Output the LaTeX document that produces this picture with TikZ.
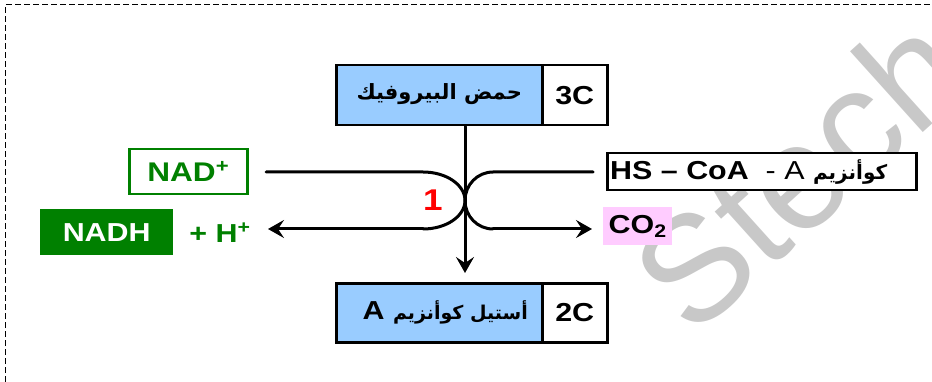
\documentclass[tikz,border=0pt]{standalone}
\usepackage{fontspec}
\setmainfont{Liberation Sans}[FakeStretch=1.17]
\newfontfamily\arabicfont[Script=Arabic]{DejaVu Sans}
\newfontfamily\wmfont{Liberation Sans}
\TeXXeTstate=1
\usetikzlibrary{arrows.meta}
\definecolor{pyrblue}{HTML}{99CCFF}
\definecolor{nadgreen}{HTML}{008000}
\definecolor{copink}{HTML}{FFCCFF}
\definecolor{wmgray}{HTML}{C8C8C8}
\newcommand\arsize[1]{\arabicfont\bfseries\fontsize{#1}{#1}\selectfont}
\tikzset{
  lbl/.style={font=\fontsize{26}{28}\selectfont\bfseries, inner sep=0pt},
  cell/.style={draw=black, line width=2.5pt, inner sep=0pt, anchor=north west},
  flow/.style={line width=3pt, line cap=round},
  tip/.style={-{Stealth[length=16pt,width=18pt,inset=6pt]}}
}
\begin{document}
\begin{tikzpicture}[x=1pt,y=-1pt]
\useasboundingbox (0,0) rectangle (932,382);
% watermark
\node[font=\wmfont\fontsize{150}{150}\selectfont, text=wmgray, rotate=42, anchor=base west, inner sep=0pt] (wm) at (692,340) {Stech};
% frame
\draw[line width=1pt, dash pattern=on 6pt off 3pt] (5,382) -- (5,5) -- (932,5);

% pyruvic acid
\node[cell, fill=pyrblue, minimum width=206pt, minimum height=60pt] (pyr) at (335,64) {};
\node[cell, fill=white, minimum width=65pt, minimum height=60pt] (c3) at (541,64) {};
\node[lbl] (pyrt) at ([yshift=1pt]pyr.center) {{\arsize{21}\beginR حمض البيروفيك\endR}};
\node[lbl] (c3t) at (c3.center) {3C};

% acetyl coenzyme A
\node[cell, fill=pyrblue, minimum width=206pt, minimum height=59pt] (acc) at (335,282) {};
\node[cell, fill=white, minimum width=65pt, minimum height=59pt] (c2) at (541,282) {};
\node[lbl] (acct) at ([xshift=6pt]acc.center) {A {\arsize{19}\beginR أستيل كوأنزيم\endR}};
\node[lbl] (c2t) at (c2.center) {2C};

% NAD+ and NADH + H+
\node[draw=nadgreen, line width=2.5pt, fill=white, minimum width=118pt, minimum height=45pt, inner sep=0pt, anchor=north west] (nad) at (128,148) {};
\node[lbl, text=nadgreen, font=\fontsize{27}{28}\selectfont\bfseries] (nadt) at (nad.center) {NAD\textsuperscript{+}};
\node[fill=nadgreen, minimum width=133pt, minimum height=46pt, inner sep=0pt, anchor=north west] (nadh) at (40,209) {};
\node[lbl, text=white] (nadht) at (nadh.center) {NADH};
\node[lbl, text=nadgreen] (hplus) at (220,233) {+ H\textsuperscript{+}};

% coenzyme A and CO2
\node[cell, fill=white, minimum width=309pt, minimum height=37pt] (coa) at (606,152) {};
\node[lbl, anchor=west] (coat) at ([xshift=4pt]coa.west) {HS – CoA\ \ {\mdseries -\ A} {\arsize{20}\beginR كوأنزيم\endR}};
\node[fill=copink, minimum width=69pt, minimum height=38pt, inner sep=0pt, anchor=north west] (co2) at (603,207) {};
\node[lbl] (co2t) at (co2.center) {CO\textsubscript{2}};

% connectors
\coordinate (inL) at (266,172);
\coordinate (inR) at (593,172);
\coordinate (outL) at (268,229);
\coordinate (outR) at (592,229);
\coordinate (touch) at (465,200.5);
\coordinate (down) at (465,273);

\draw[flow] (inL) -- (423,172) .. controls (446.2,172) and (465,184.8) .. (touch)
  .. controls (465,216.2) and (446.2,229) .. (423,229);
\draw[flow, tip] (423,229) -- (outL);
\draw[flow] (inR) -- (493,172) .. controls (477.5,172) and (465,184.8) .. (touch)
  .. controls (465,216.2) and (477.5,229) .. (493,229);
\draw[flow, tip] (493,229) -- (outR);
\draw[flow, tip] (pyr.south -| touch) -- (down);

\node[text=red, font=\fontsize{30}{30}\selectfont\bfseries, inner sep=0pt] (step1) at (433,200) {1};
\end{tikzpicture}
\end{document}
